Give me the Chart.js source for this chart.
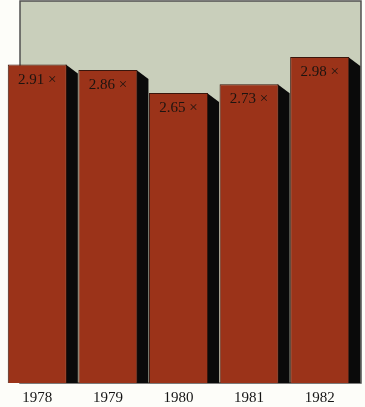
<!DOCTYPE html>
<html>
<head>
<meta charset="utf-8">
<script src="https://cdn.jsdelivr.net/npm/chart.js@4.4.1/dist/chart.umd.min.js"></script>
<style>
    html, body { margin: 0; padding: 0; background: #fdfdf9; }
    #wrap { width: 365px; height: 407px; position: relative; }
</style>
</head>
<body>
<div id="wrap"><canvas id="multChart"></canvas></div>
<script>
// Years and price multiples per year
const years = ['1978', '1979', '1980', '1981', '1982'];
const multiples = [2.91, 2.86, 2.65, 2.73, 2.98];
const yMax = 3.5;

const barColor = '#9b3319';
const panelColor = '#c9cfbb';

// Grey-green backdrop plus black side faces behind each bar
const backdrop = {
    id: 'backdrop',
    beforeDatasetsDraw(chart) {
        const ctx = chart.ctx;
        const area = chart.chartArea;
        ctx.save();
        ctx.fillStyle = panelColor;
        ctx.strokeStyle = '#505050';
        ctx.lineWidth = 1.5;
        ctx.fillRect(area.left + 18, area.top + 1, 361 - area.left - 18, area.bottom - area.top - 1);
        ctx.strokeRect(area.left + 18, area.top + 1, 361 - area.left - 18, area.bottom - area.top - 1);

        // side face: slanted top, runs down to the baseline
        const meta = chart.getDatasetMeta(0);
        ctx.fillStyle = '#0a0a0a';
        meta.data.forEach(bar => {
            const right = bar.x + bar.width / 2;
            ctx.beginPath();
            ctx.moveTo(right - 1, bar.y);
            ctx.lineTo(right + 11, bar.y + 9);
            ctx.lineTo(right + 11, bar.base);
            ctx.lineTo(right - 1, bar.base);
            ctx.closePath();
            ctx.fill();
        });
        ctx.restore();
    }
};

// Value labels inside the top of each bar
const valueLabels = {
    id: 'valueLabels',
    afterDatasetsDraw(chart) {
        const ctx = chart.ctx;
        const meta = chart.getDatasetMeta(0);
        ctx.save();
        ctx.font = '15px "Liberation Serif"';
        ctx.fillStyle = '#1c1410';
        ctx.textAlign = 'center';
        ctx.textBaseline = 'middle';
        meta.data.forEach((bar, i) => {
            ctx.fillText(multiples[i].toFixed(2) + ' ×', bar.x, bar.y + 15);
        });
        ctx.restore();
    }
};

const ctx = document.getElementById('multChart').getContext('2d');
new Chart(ctx, {
    type: 'bar',
    data: {
        labels: years,
        datasets: [{
            data: multiples,
            backgroundColor: barColor,
            borderColor: '#3a160c',
            borderWidth: 1,
            barPercentage: 1,
            categoryPercentage: 59 / 70.5
        }]
    },
    options: {
        responsive: true,
        maintainAspectRatio: false,
        animation: false,
        layout: {
            padding: { left: 2, right: 10, top: 0, bottom: 0 }
        },
        plugins: {
            legend: { display: false },
            tooltip: { enabled: false }
        },
        scales: {
            y: {
                display: false,
                min: 0,
                max: yMax
            },
            x: {
                grid: { display: false, drawTicks: false },
                border: { display: false },
                afterFit(scale) {
                    // keep the year row tight under the bars
                    scale.height = 24;
                },
                ticks: {
                    color: '#151515',
                    padding: 6,
                    font: { family: 'Liberation Serif', size: 15 }
                }
            }
        }
    },
    plugins: [backdrop, valueLabels]
});
</script>
</body>
</html>
